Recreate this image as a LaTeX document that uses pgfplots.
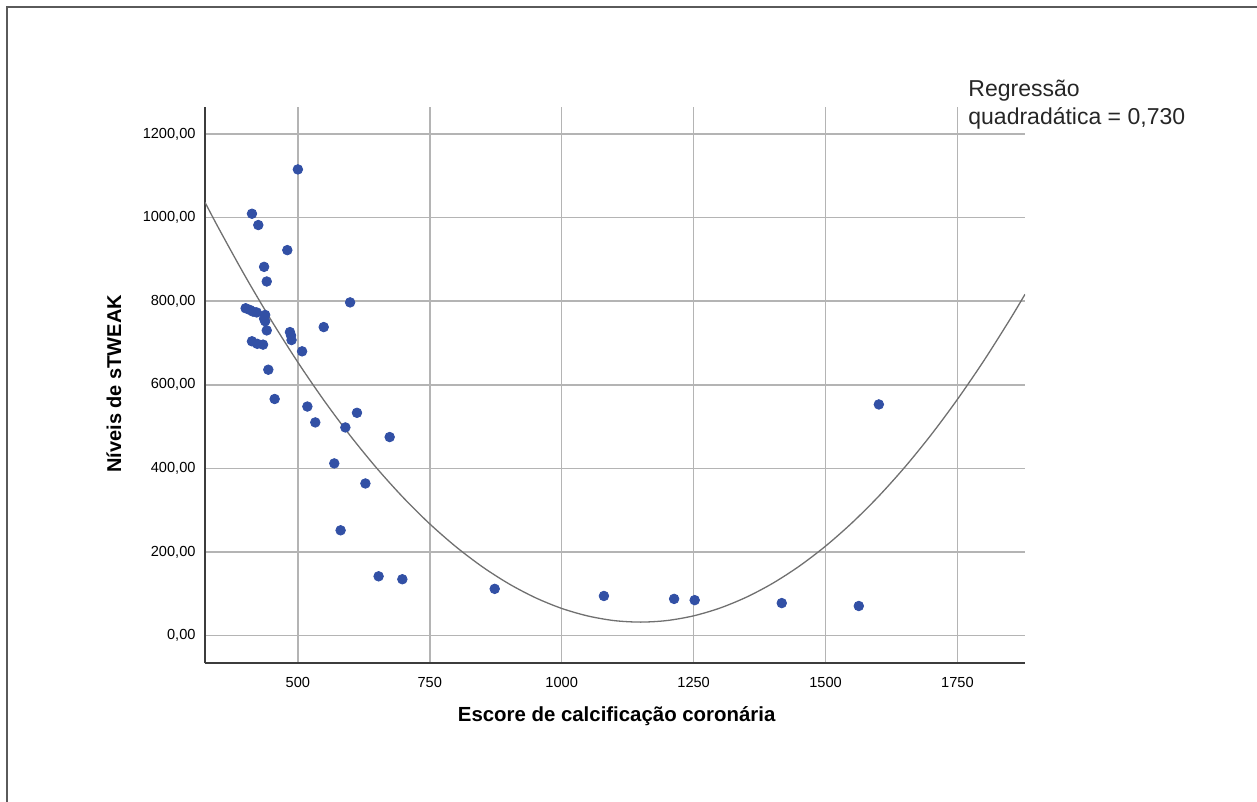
\documentclass[border=0pt]{standalone}
\usepackage{fontspec}
\setmainfont{Liberation Sans}
\newfontfamily\lblfont{Liberation Sans}
\usepackage{pgfplots}
\pgfplotsset{compat=1.18}
\definecolor{ptblue}{RGB}{50,80,165}
\definecolor{gridgray}{RGB}{180,180,180}
\definecolor{axgray}{RGB}{60,60,60}
\definecolor{curvegray}{RGB}{112,112,112}
\definecolor{framegray}{RGB}{90,90,90}

\pgfplotstableread{
x y
500 1115
413 1009
425 982
480 922
436 882
441 847
599 797
401 783
409 779
415 775
422 773
438 767
436 758
438 752
549 738
441 730
485 726
487 718
488 707
413 704
423 698
434 696
508 680
444 636
456 566
518 548
612 533
533 510
590 498
674 475
569 412
628 364
581 252
653 142
698 135
873 112
1080 95
1213 88
1252 85
1417 78
1563 71
1601 553
}\pointdata

\pgfplotstableread{
x y
324 1036.4
350 974.1
400 860.0
450 753.2
500 653.8
550 561.7
600 477.1
650 399.8
700 329.9
750 267.3
800 212.2
850 164.4
900 124.0
950 90.9
1000 65.2
1050 47.0
1100 36.0
1150 32.5
1200 36.3
1250 47.5
1300 66.1
1350 92.1
1400 125.4
1450 166.1
1500 214.2
1550 269.7
1600 332.5
1650 402.7
1700 480.3
1750 565.3
1800 657.6
1850 757.3
1878 816.4
}\curvedata

\begin{document}
\begin{tikzpicture}[x=1pt,y=1pt]
\useasboundingbox (0,0) rectangle (628.5,401);
\draw[line width=1pt, framegray] (3.35,0) -- (3.35,397.35) -- (628.5,397.35);
\begin{axis}[
  at={(102.5pt,69.35pt)}, anchor=south west,
  scale only axis, width=410pt, height=278.3pt,
  xmin=324, xmax=1878, ymin=-66, ymax=1265,
  axis x line=bottom, axis y line=left,
  axis line style={-, axgray, line width=0.8pt},
  xtick={500,750,1000,1250,1500,1750},
  ytick={0,200,400,600,800,1000,1200},
  major tick length=0pt,
  grid=major,
  major grid style={gridgray, line width=0.75pt},
  /pgf/number format/assume math mode=true,
  x tick label style={font=\fontsize{7.3}{8}\selectfont, /pgf/number format/1000 sep={}, yshift=-3.5pt},
  y tick label style={font=\fontsize{7.3}{8}\selectfont, xshift=-1.2pt,
    /pgf/number format/fixed, /pgf/number format/fixed zerofill,
    /pgf/number format/precision=2, /pgf/number format/use comma,
    /pgf/number format/1000 sep={}},
  xlabel={Escore de calcificação coronária},
  ylabel={Níveis de sTWEAK},
  xlabel style={font=\lblfont\bfseries\fontsize{10.2}{12}\selectfont, at={(axis description cs:0.502,-0.0947)}, anchor=center},
  ylabel style={font=\lblfont\bfseries\fontsize{10}{12}\selectfont, at={(axis description cs:-0.111,0.502)}, anchor=center},
  clip=true,
]
\addplot[curvegray, line width=0.65pt, smooth, no markers] table[x=x,y=y] {\curvedata};
\addplot[only marks, mark=*, mark size=2.4pt, mark options={fill=ptblue, draw=ptblue}] table[x=x,y=y] {\pointdata};
\end{axis}
\node[anchor=base west, inner sep=0pt, font=\fontsize{11.5}{13}\selectfont, text=black!85] at (484,352.9) {Regressão};
\node[anchor=base west, inner sep=0pt, font=\fontsize{11.5}{13}\selectfont, text=black!85] at (484,338.6) {quadradática = 0,730};
\end{tikzpicture}
\end{document}
